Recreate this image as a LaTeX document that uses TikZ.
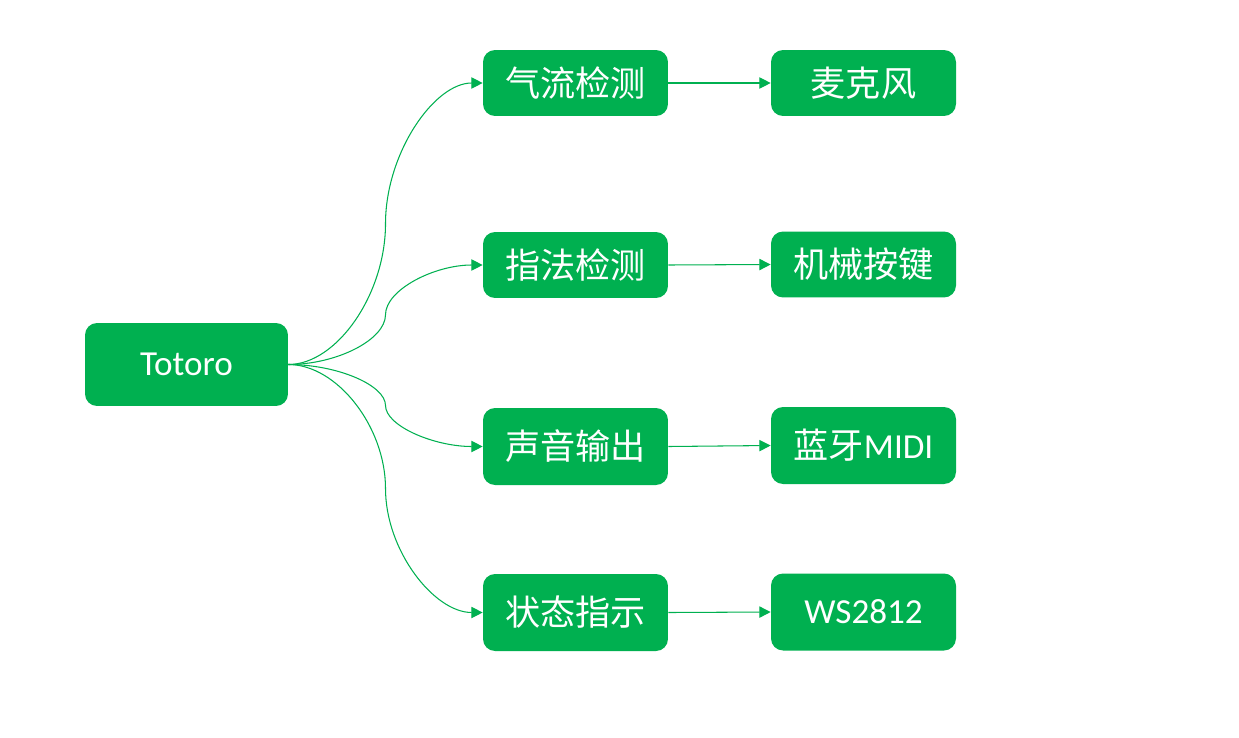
\documentclass[tikz,border=0pt]{standalone}
\usepackage{fontspec}
\setmainfont{Carlito}
\newfontfamily\cjk{Noto Sans CJK SC}
\usetikzlibrary{arrows.meta}

\definecolor{boxgreen}{HTML}{00B050}

\tikzset{
    box/.style={fill=boxgreen, rounded corners=0.24cm, text=white, inner sep=0pt,
        minimum width=3.7cm, minimum height=1.32cm, font=\fontsize{20}{24}\selectfont},
    tallbox/.style={box, minimum height=1.54cm},
    link/.style={draw=boxgreen, line width=0.6pt, -{Triangle[length=6.4pt,width=6.4pt]}}
}

\begin{document}
\begin{tikzpicture}[x=0.02cm, y=-0.02cm]
        \useasboundingbox (0, 0) rectangle (1239, 737);

        \node[box, minimum width=4.06cm, minimum height=1.66cm] (root) at (186.5, 364.5) {Totoro};

        \node[box] (gas) at (575.5, 83) {\cjk 气流检测};
        \node[box] (finger) at (575.5, 265) {\cjk 指法检测};
        \node[tallbox] (sound) at (575.5, 446.5) {\cjk 声音输出};
        \node[tallbox] (state) at (575.5, 612.5) {\cjk 状态指示};

        \node[box] (mic) at (863.5, 83) {\cjk 麦克风};
        \node[box] (keys) at (863.5, 264.5) {\cjk 机械按键};
        \node[tallbox] (midi) at (863.5, 445.5) {{\cjk 蓝牙}MIDI};
        \node[tallbox] (led) at (863.5, 612) {WS2812};

        % curved links from the root
        \foreach \t in {gas, finger, sound, state} {
            \path (root.east) -- (\t.west)
                coordinate[pos=0.25] (q\t) coordinate[pos=0.5] (m\t) coordinate[pos=0.75] (r\t);
            \draw[link] (root.east) .. controls (q\t |- root.east) and (m\t |- q\t) .. (m\t)
                .. controls (m\t |- r\t) and (r\t |- \t.west) .. (\t.west);
        }

        \draw[link] (gas.east) -- (mic.west);
        \draw[link] (finger.east) -- (keys.west);
        \draw[link] (sound.east) -- (midi.west);
        \draw[link] (state.east) -- (led.west);
    \end{tikzpicture}
\end{document}
